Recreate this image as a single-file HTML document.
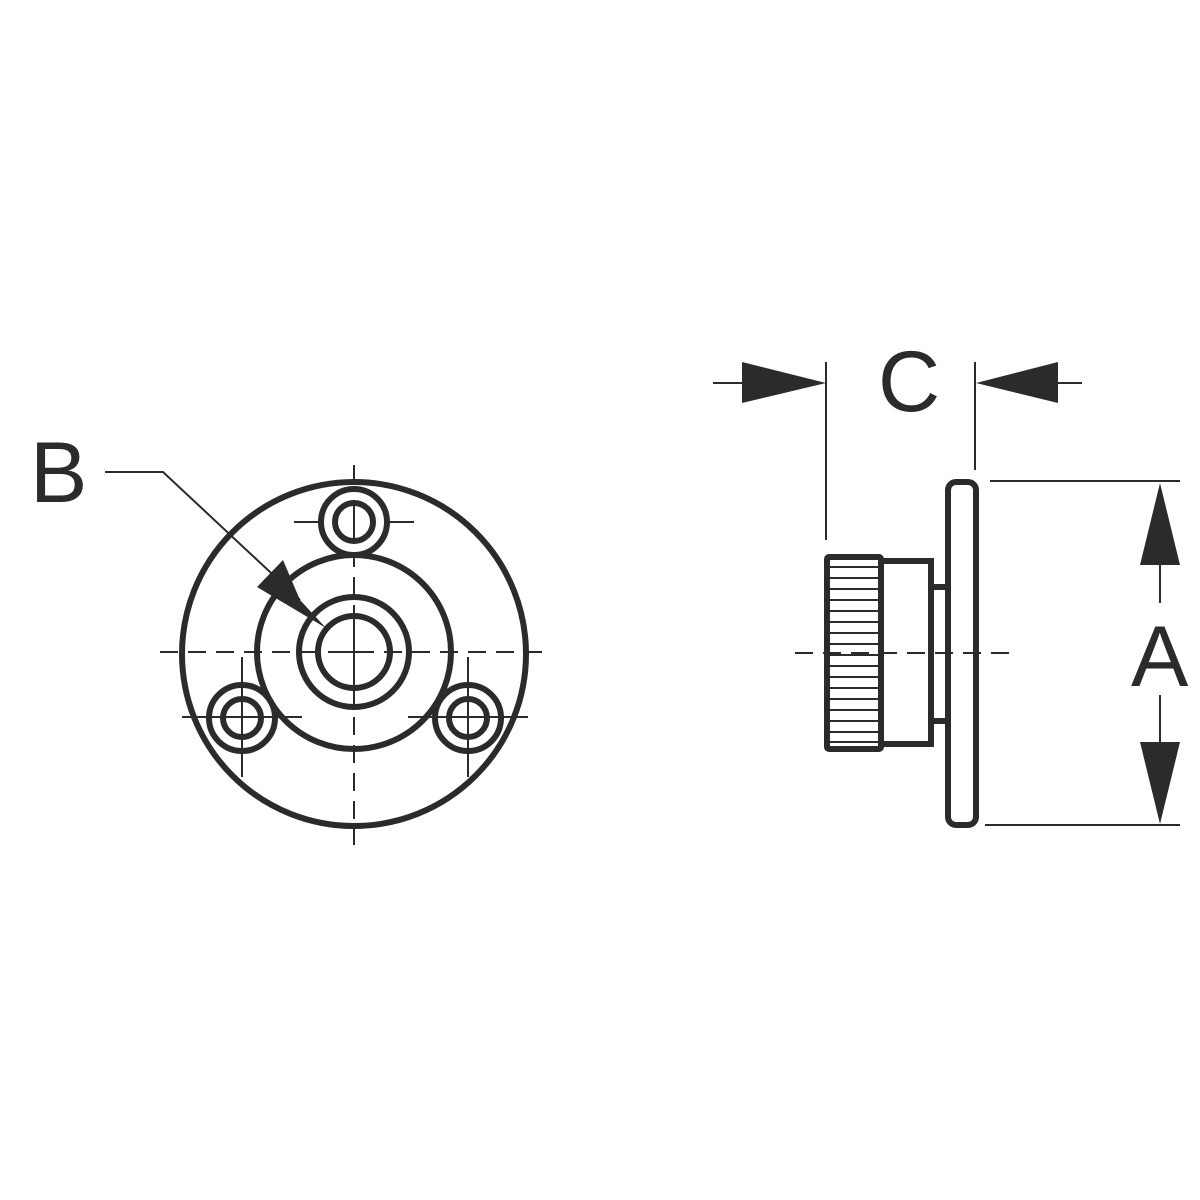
<!DOCTYPE html>
<html><head><style>html,body{margin:0;padding:0;background:#fff;}svg{display:block}</style></head>
<body>
<svg width="1200" height="1200" viewBox="0 0 1200 1200" xmlns="http://www.w3.org/2000/svg">
<rect width="1200" height="1200" fill="#fff"/>
<g stroke="#2b2b2b" fill="none">
<g stroke-width="2" stroke-dasharray="18,10">
<line x1="160" y1="652" x2="550" y2="652"/>
<line x1="354" y1="465" x2="354" y2="845"/>
</g>
<g stroke-width="2">
<line x1="294" y1="522" x2="414" y2="522"/>
<line x1="182" y1="717" x2="302" y2="717"/>
<line x1="408" y1="717" x2="528" y2="717"/>
<line x1="242" y1="657" x2="242" y2="777"/>
<line x1="468" y1="657" x2="468" y2="777"/>
<line x1="354" y1="612" x2="354" y2="692"/>
<line x1="334" y1="652" x2="374" y2="652"/>
</g>
<g stroke-width="6">
<circle cx="354" cy="654" r="172"/>
<circle cx="354" cy="652" r="97"/>
<circle cx="354" cy="652" r="55"/>
<circle cx="354" cy="652" r="36"/>
<circle cx="354" cy="522" r="33" fill="#fff"/>
<circle cx="354" cy="522" r="19"/>
<circle cx="242" cy="718" r="33"/>
<circle cx="242" cy="718" r="19"/>
<circle cx="468" cy="718" r="33"/>
<circle cx="468" cy="718" r="19"/>
</g>
<g stroke-width="2">
<line x1="354" y1="500" x2="354" y2="544"/>
<line x1="242" y1="700" x2="242" y2="736"/>
<line x1="468" y1="700" x2="468" y2="736"/>
</g>
<polyline stroke-width="2" points="105,472 163,472 300,600"/>
<polygon fill="#2b2b2b" stroke="none" points="257,587 283,560 300,600 326,628"/>
<line stroke-width="2" stroke-dasharray="18,10" x1="795" y1="653" x2="1010" y2="653"/>
<g stroke-width="6">
<rect x="827" y="557" width="54" height="192" rx="2"/>
<rect x="881" y="561" width="50" height="183"/>
<polyline points="931,587 947,587"/>
<polyline points="931,721 947,721"/>
<rect x="948" y="482" width="28" height="343" rx="8"/>
</g>
<g stroke-width="2">
<line x1="829" y1="567" x2="879" y2="567"/><line x1="829" y1="578" x2="879" y2="578"/>
<line x1="829" y1="589" x2="879" y2="589"/><line x1="829" y1="600" x2="879" y2="600"/>
<line x1="829" y1="611" x2="879" y2="611"/><line x1="829" y1="622" x2="879" y2="622"/>
<line x1="829" y1="633" x2="879" y2="633"/><line x1="829" y1="644" x2="879" y2="644"/>
<line x1="829" y1="655" x2="879" y2="655"/><line x1="829" y1="666" x2="879" y2="666"/>
<line x1="829" y1="677" x2="879" y2="677"/><line x1="829" y1="688" x2="879" y2="688"/>
<line x1="829" y1="699" x2="879" y2="699"/><line x1="829" y1="710" x2="879" y2="710"/>
<line x1="829" y1="721" x2="879" y2="721"/><line x1="829" y1="732" x2="879" y2="732"/>
<line x1="829" y1="742" x2="879" y2="742"/>
</g>
<g stroke-width="2">
<line x1="826" y1="362" x2="826" y2="540"/>
<line x1="975" y1="362" x2="975" y2="470"/>
<line x1="713" y1="383" x2="745" y2="383"/>
<line x1="1055" y1="383" x2="1082" y2="383"/>
<line x1="990" y1="481" x2="1180" y2="481"/>
<line x1="985" y1="825" x2="1180" y2="825"/>
<line x1="1160" y1="560" x2="1160" y2="603"/>
<line x1="1160" y1="695" x2="1160" y2="745"/>
</g>
<polygon fill="#2b2b2b" stroke="none" points="742,362 826,383 742,403"/>
<polygon fill="#2b2b2b" stroke="none" points="1058,362 976,383 1058,403"/>
<polygon fill="#2b2b2b" stroke="none" points="1140,565 1160,483 1180,565"/>
<polygon fill="#2b2b2b" stroke="none" points="1140,742 1160,824 1180,742"/>
</g>
<g fill="#2b2b2b" font-family="Liberation Sans, sans-serif" font-size="86">
<text x="878" y="411">C</text>
<text x="1131" y="686">A</text>
<text x="30" y="502">B</text>
</g>
</svg>
</body></html>
